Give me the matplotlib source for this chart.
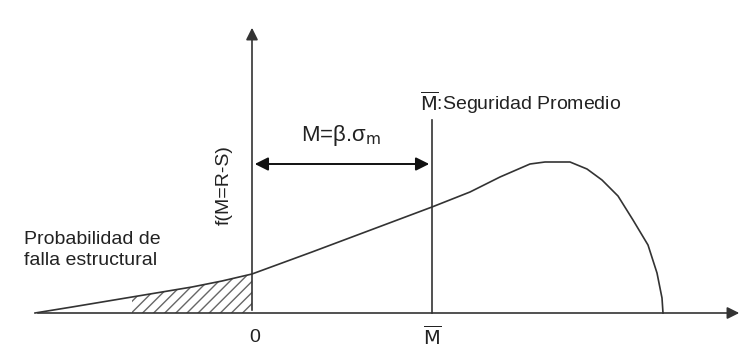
import matplotlib.pyplot as plt
import numpy as np

plt.rcParams['font.family'] = ['Liberation Sans', 'DejaVu Sans']

# curva de densidad f(M) (coordenadas, origen en M=0)
curva_x = [-217, -180, -150, -120, -90, -60, -30, 0, 30, 60, 100, 140, 180,
           218, 248, 278, 293, 318, 335, 350, 366, 381, 396, 405, 410, 411]
curva_y = [0, 6, 11, 16, 21, 26, 32, 39, 50, 61, 76, 91, 106,
           121, 136, 149, 151, 151, 144, 133, 117, 93, 68, 40, 15, 0]

M_media = 180        # posición de M barra
x_falla = -130       # inicio visible del rayado
y_flecha = 149       # altura de la cota M=beta.sigma

gris = '#333333'

fig = plt.figure(figsize=(7.45, 3.54), dpi=100)
ax = fig.add_axes([0, 0, 1, 1])
ax.set_xlim(-252, 745 - 252)
ax.set_ylim(313 - 354, 313)
ax.axis('off')

cx = np.array(curva_x, dtype=float)
cy = np.array(curva_y, dtype=float)
ax.plot(cx, cy, color=gris, lw=1.2)

# zona rayada (probabilidad de falla)
mask = (cx >= x_falla) & (cx <= 0)
ax.fill_between(cx[mask], 0, cy[mask], facecolor='none', edgecolor='#666666',
                hatch='///', lw=0)

# ejes
ax.annotate('', xy=(490, 0), xytext=(-217, 0),
            arrowprops=dict(arrowstyle='-|>', color=gris, lw=1.2,
                            mutation_scale=18))
ax.annotate('', xy=(0, 288), xytext=(0, 0),
            arrowprops=dict(arrowstyle='-|>', color=gris, lw=1.2,
                            mutation_scale=18))

# línea de M barra
ax.plot([M_media, M_media], [0, 193], color=gris, lw=1.2)

# cota
ax.annotate('', xy=(0, y_flecha), xytext=(M_media, y_flecha),
            arrowprops=dict(arrowstyle='<|-|>', color='#111111', lw=1.4,
                            mutation_scale=20))

ax.text(89, 177, r'M=β.σ$_{\rm m}$', fontsize=16, color='#222222',
        ha='center', va='center')
ax.text(168, 210, r'$\overline{\rm M}$:Seguridad Promedio', fontsize=14,
        color='#222222', ha='left', va='center')
ax.text(3, -24, '0', fontsize=14, color='#222222', ha='center', va='center')
ax.text(M_media, -24, r'$\overline{\rm M}$', fontsize=14, color='#222222',
        ha='center', va='center')
ax.text(-28, 128, 'f(M=R-S)', fontsize=14, color='#222222', rotation=90,
        ha='center', va='center')
ax.text(-228, 63, 'Probabilidad de\nfalla estructural', fontsize=14,
        color='#222222', ha='left', va='center', linespacing=1.3)

fig.savefig('out.png', dpi=100)
